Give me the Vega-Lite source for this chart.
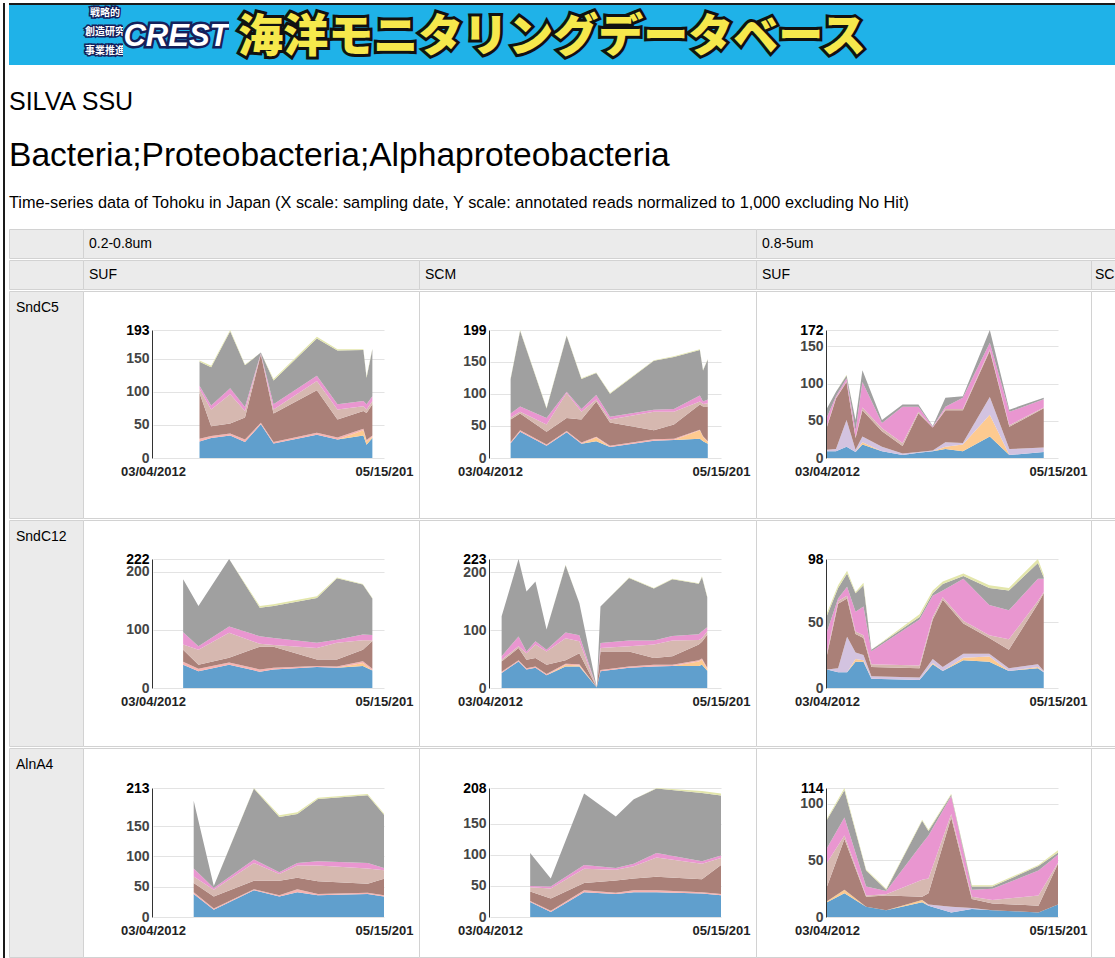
{
"$schema": "https://vega.github.io/schema/vega-lite/v6.json",
"padding": {"left": 3, "top": 3, "right": 0, "bottom": 0},
"background": "#ffffff",
"spacing": 3,
"config": {
  "view": {"stroke": null},
  "concat": {"spacing": 0},
  "title": {"orient": "none", "anchor": "start", "frame": "group", "offset": 0, "font": "Liberation Sans", "fontWeight": "normal", "color": "#000000"},
  "axisX": {"domain": false, "ticks": false, "grid": false, "labelFont": "Liberation Sans", "labelFontSize": 13, "labelFontWeight": "bold", "labelColor": "#222222", "labelPadding": 7, "labelFlush": false, "labelOverlap": false, "labelBound": false},
  "axisY": {"domain": true, "domainColor": "#333333", "ticks": false, "grid": true, "gridColor": "#e3e3e3", "labelFont": "Liberation Sans", "labelFontSize": 14, "labelFontWeight": "bold", "labelPadding": 3, "labelOverlap": false, "zindex": 0}
},
"datasets": {
"s": [
{"p":"A","d":"2012-05-31","t1":25,"t2":0,"t3":4,"t4":0,"t5":69,"t6":6,"t7":5,"t8":36,"t9":2},
{"p":"A","d":"2012-06-22","t1":30,"t2":0,"t3":3,"t4":0,"t5":15,"t6":25,"t7":6,"t8":58,"t9":2},
{"p":"A","d":"2012-07-28","t1":34,"t2":0,"t3":3,"t4":0,"t5":15,"t6":44,"t7":9,"t8":86,"t9":2},
{"p":"A","d":"2012-08-25","t1":24,"t2":0,"t3":4,"t4":0,"t5":33,"t6":10,"t7":6,"t8":63,"t9":1},
{"p":"A","d":"2012-09-24","t1":51,"t2":0,"t3":2,"t4":0,"t5":103,"t6":1,"t7":1,"t8":1,"t9":0},
{"p":"A","d":"2012-10-18","t1":22,"t2":0,"t3":2,"t4":0,"t5":43,"t6":6,"t7":8,"t8":36,"t9":2},
{"p":"A","d":"2013-01-08","t1":35,"t2":0,"t3":3,"t4":0,"t5":64,"t6":14,"t7":8,"t8":56,"t9":3},
{"p":"A","d":"2013-02-16","t1":28,"t2":0,"t3":3,"t4":0,"t5":27,"t6":15,"t7":8,"t8":81,"t9":2},
{"p":"A","d":"2013-04-06","t1":34,"t2":8,"t3":2,"t4":0,"t5":27,"t6":7,"t7":8,"t8":77,"t9":1},
{"p":"A","d":"2013-04-12","t1":20,"t2":5,"t3":2,"t4":0,"t5":41,"t6":5,"t7":8,"t8":40,"t9":2},
{"p":"A","d":"2013-04-23","t1":30,"t2":2,"t3":2,"t4":0,"t5":47,"t6":5,"t7":7,"t8":71,"t9":1},
{"p":"B","d":"2012-04-12","t1":23,"t2":0,"t3":2,"t4":0,"t5":35,"t6":3,"t7":6,"t8":54,"t9":1},
{"p":"B","d":"2012-04-30","t1":41,"t2":0,"t3":2,"t4":0,"t5":26,"t6":3,"t7":8,"t8":118,"t9":1},
{"p":"B","d":"2012-06-19","t1":19,"t2":0,"t3":2,"t4":0,"t5":20,"t6":11,"t7":10,"t8":15,"t9":1},
{"p":"B","d":"2012-07-27","t1":40,"t2":0,"t3":2,"t4":0,"t5":20,"t6":39,"t7":2,"t8":87,"t9":1},
{"p":"B","d":"2012-08-24","t1":22,"t2":0,"t3":2,"t4":0,"t5":36,"t6":12,"t7":4,"t8":47,"t9":1},
{"p":"B","d":"2012-09-21","t1":26,"t2":6,"t3":1,"t4":0,"t5":55,"t6":3,"t7":7,"t8":34,"t9":1},
{"p":"B","d":"2012-10-17","t1":17,"t2":0,"t3":2,"t4":0,"t5":36,"t6":5,"t7":4,"t8":36,"t9":1},
{"p":"B","d":"2013-01-08","t1":27,"t2":0,"t3":2,"t4":0,"t5":14,"t6":29,"t7":3,"t8":76,"t9":1},
{"p":"B","d":"2013-02-15","t1":28,"t2":0,"t3":2,"t4":0,"t5":22,"t6":20,"t7":4,"t8":81,"t9":1},
{"p":"B","d":"2013-04-05","t1":30,"t2":13,"t3":1,"t4":0,"t5":39,"t6":5,"t7":9,"t8":71,"t9":1},
{"p":"B","d":"2013-04-11","t1":26,"t2":7,"t3":1,"t4":0,"t5":46,"t6":4,"t7":4,"t8":48,"t9":1},
{"p":"B","d":"2013-04-20","t1":22,"t2":3,"t3":1,"t4":0,"t5":54,"t6":5,"t7":6,"t8":62,"t9":1},
{"p":"C","d":"2012-03-04","t1":9,"t2":0,"t3":0,"t4":2,"t5":31,"t6":2,"t7":11,"t8":12,"t9":0},
{"p":"C","d":"2012-03-21","t1":9,"t2":0,"t3":0,"t4":3,"t5":68,"t6":1,"t7":2,"t8":6,"t9":0},
{"p":"C","d":"2012-04-10","t1":15,"t2":0,"t3":0,"t4":36,"t5":51,"t6":1,"t7":4,"t8":4,"t9":1},
{"p":"C","d":"2012-04-27","t1":8,"t2":0,"t3":0,"t4":3,"t5":16,"t6":1,"t7":9,"t8":14,"t9":0},
{"p":"C","d":"2012-05-10","t1":18,"t2":3,"t3":0,"t4":8,"t5":35,"t6":4,"t7":34,"t8":16,"t9":0},
{"p":"C","d":"2012-06-16","t1":9,"t2":0,"t3":0,"t4":6,"t5":21,"t6":4,"t7":7,"t8":4,"t9":0},
{"p":"C","d":"2012-07-25","t1":4,"t2":0,"t3":0,"t4":2,"t5":10,"t6":4,"t7":49,"t8":3,"t9":0},
{"p":"C","d":"2012-08-24","t1":7,"t2":0,"t3":0,"t4":1,"t5":52,"t6":2,"t7":7,"t8":3,"t9":0},
{"p":"C","d":"2012-09-20","t1":9,"t2":0,"t3":0,"t4":1,"t5":31,"t6":0,"t7":1,"t8":1,"t9":0},
{"p":"C","d":"2012-10-14","t1":12,"t2":3,"t3":0,"t4":6,"t5":43,"t6":2,"t7":3,"t8":12,"t9":0},
{"p":"C","d":"2012-11-16","t1":9,"t2":9,"t3":0,"t4":2,"t5":44,"t6":2,"t7":15,"t8":2,"t9":0},
{"p":"C","d":"2013-01-06","t1":29,"t2":29,"t3":0,"t4":24,"t5":62,"t6":2,"t7":9,"t8":17,"t9":0},
{"p":"C","d":"2013-02-12","t1":4,"t2":0,"t3":0,"t4":8,"t5":30,"t6":2,"t7":18,"t8":3,"t9":0},
{"p":"C","d":"2013-04-18","t1":8,"t2":0,"t3":0,"t4":6,"t5":53,"t6":1,"t7":11,"t8":2,"t9":0},
{"p":"D","d":"2012-04-30","t1":40,"t2":0,"t3":5,"t4":0,"t5":21,"t6":9,"t7":21,"t8":91,"t9":0},
{"p":"D","d":"2012-05-29","t1":29,"t2":0,"t3":4,"t4":0,"t5":7,"t6":26,"t7":6,"t8":69,"t9":0},
{"p":"D","d":"2012-07-26","t1":40,"t2":0,"t3":4,"t4":0,"t5":8,"t6":43,"t7":11,"t8":116,"t9":0},
{"p":"D","d":"2012-09-22","t1":28,"t2":0,"t3":4,"t4":0,"t5":39,"t6":5,"t7":13,"t8":49,"t9":3},
{"p":"D","d":"2012-10-18","t1":32,"t2":0,"t3":3,"t4":0,"t5":36,"t6":3,"t7":12,"t8":55,"t9":3},
{"p":"D","d":"2013-01-08","t1":36,"t2":0,"t3":2,"t4":0,"t5":11,"t6":20,"t7":9,"t8":77,"t9":3},
{"p":"D","d":"2013-02-15","t1":35,"t2":0,"t3":2,"t4":0,"t5":12,"t6":29,"t7":5,"t8":106,"t9":1},
{"p":"D","d":"2013-04-05","t1":38,"t2":5,"t3":3,"t4":0,"t5":20,"t6":16,"t7":10,"t8":86,"t9":1},
{"p":"D","d":"2013-04-23","t1":30,"t2":0,"t3":3,"t4":0,"t5":48,"t6":1,"t7":9,"t8":63,"t9":1},
{"p":"E","d":"2012-03-26","t1":26,"t2":0,"t3":2,"t4":0,"t5":18,"t6":3,"t7":6,"t8":69,"t9":0},
{"p":"E","d":"2012-04-27","t1":46,"t2":0,"t3":2,"t4":0,"t5":21,"t6":3,"t7":17,"t8":134,"t9":0},
{"p":"E","d":"2012-05-12","t1":32,"t2":0,"t3":2,"t4":0,"t5":15,"t6":11,"t7":3,"t8":104,"t9":0},
{"p":"E","d":"2012-05-29","t1":35,"t2":0,"t3":2,"t4":0,"t5":15,"t6":23,"t7":6,"t8":103,"t9":0},
{"p":"E","d":"2012-06-19","t1":22,"t2":0,"t3":2,"t4":0,"t5":16,"t6":23,"t7":3,"t8":35,"t9":0},
{"p":"E","d":"2012-07-25","t1":37,"t2":3,"t3":2,"t4":0,"t5":6,"t6":38,"t7":10,"t8":116,"t9":1},
{"p":"E","d":"2012-08-20","t1":37,"t2":2,"t3":2,"t4":0,"t5":19,"t6":21,"t7":10,"t8":56,"t9":0},
{"p":"E","d":"2012-09-22","t1":1,"t2":0,"t3":0,"t4":0,"t5":0,"t6":0,"t7":0,"t8":0,"t9":0},
{"p":"E","d":"2012-09-29","t1":29,"t2":0,"t3":2,"t4":0,"t5":32,"t6":6,"t7":9,"t8":63,"t9":0},
{"p":"E","d":"2012-11-22","t1":35,"t2":0,"t3":2,"t4":0,"t5":26,"t6":9,"t7":10,"t8":108,"t9":1},
{"p":"E","d":"2013-01-08","t1":37,"t2":0,"t3":3,"t4":0,"t5":12,"t6":23,"t7":7,"t8":90,"t9":1},
{"p":"E","d":"2013-02-12","t1":38,"t2":0,"t3":2,"t4":0,"t5":15,"t6":27,"t7":8,"t8":98,"t9":1},
{"p":"E","d":"2013-04-03","t1":38,"t2":8,"t3":2,"t4":0,"t5":27,"t6":8,"t7":10,"t8":87,"t9":1},
{"p":"E","d":"2013-04-09","t1":40,"t2":9,"t3":2,"t4":0,"t5":29,"t6":6,"t7":12,"t8":94,"t9":1},
{"p":"E","d":"2013-04-19","t1":30,"t2":3,"t3":2,"t4":0,"t5":57,"t6":6,"t7":7,"t8":52,"t9":1},
{"p":"F","d":"2012-03-04","t1":14,"t2":0,"t3":0,"t4":0,"t5":11,"t6":2,"t7":16,"t8":12,"t9":2},
{"p":"F","d":"2012-03-25","t1":12,"t2":0,"t3":0,"t4":3,"t5":49,"t6":2,"t7":2,"t8":8,"t9":2},
{"p":"F","d":"2012-04-11","t1":12,"t2":0,"t3":0,"t4":27,"t5":29,"t6":2,"t7":7,"t8":10,"t9":2},
{"p":"F","d":"2012-04-27","t1":20,"t2":2,"t3":0,"t4":5,"t5":14,"t6":2,"t7":15,"t8":14,"t9":1},
{"p":"F","d":"2012-05-12","t1":20,"t2":1,"t3":0,"t4":4,"t5":13,"t6":2,"t7":22,"t8":16,"t9":2},
{"p":"F","d":"2012-05-27","t1":7,"t2":0,"t3":0,"t4":2,"t5":7,"t6":2,"t7":10,"t8":1,"t9":0},
{"p":"F","d":"2012-08-26","t1":6,"t2":0,"t3":0,"t4":2,"t5":7,"t6":2,"t7":35,"t8":2,"t9":2},
{"p":"F","d":"2012-09-20","t1":18,"t2":1,"t3":0,"t4":3,"t5":30,"t6":2,"t7":16,"t8":2,"t9":2},
{"p":"F","d":"2012-10-09","t1":13,"t2":0,"t3":0,"t4":3,"t5":51,"t6":2,"t7":5,"t8":5,"t9":2},
{"p":"F","d":"2012-11-17","t1":21,"t2":2,"t3":0,"t4":3,"t5":23,"t6":2,"t7":32,"t8":2,"t9":2},
{"p":"F","d":"2013-01-05","t1":20,"t2":4,"t3":0,"t4":2,"t5":12,"t6":2,"t7":23,"t8":13,"t9":2},
{"p":"F","d":"2013-02-11","t1":13,"t2":0,"t3":0,"t4":2,"t5":14,"t6":8,"t7":22,"t8":15,"t9":2},
{"p":"F","d":"2013-04-07","t1":15,"t2":1,"t3":0,"t4":2,"t5":46,"t6":2,"t7":17,"t8":12,"t9":3},
{"p":"F","d":"2013-04-18","t1":12,"t2":0,"t3":0,"t4":1,"t5":59,"t6":1,"t7":10,"t8":1,"t9":2},
{"p":"G","d":"2012-05-20","t1":38,"t2":0,"t3":3,"t4":0,"t5":15,"t6":11,"t7":13,"t8":112,"t9":0},
{"p":"G","d":"2012-06-27","t1":12,"t2":0,"t3":2,"t4":0,"t5":20,"t6":11,"t7":3,"t8":3,"t9":0},
{"p":"G","d":"2012-09-11","t1":44,"t2":0,"t3":2,"t4":0,"t5":14,"t6":29,"t7":6,"t8":117,"t9":1},
{"p":"G","d":"2012-10-29","t1":34,"t2":0,"t3":2,"t4":0,"t5":24,"t6":11,"t7":3,"t8":91,"t9":3},
{"p":"G","d":"2012-12-02","t1":41,"t2":0,"t3":5,"t4":0,"t5":19,"t6":20,"t7":4,"t8":81,"t9":3},
{"p":"G","d":"2013-01-10","t1":36,"t2":0,"t3":2,"t4":0,"t5":21,"t6":26,"t7":7,"t8":103,"t9":2},
{"p":"G","d":"2013-04-14","t1":38,"t2":0,"t3":2,"t4":0,"t5":15,"t6":25,"t7":9,"t8":112,"t9":2},
{"p":"G","d":"2013-05-15","t1":34,"t2":0,"t3":2,"t4":0,"t5":27,"t6":14,"t7":4,"t8":88,"t9":2},
{"p":"H","d":"2012-05-19","t1":24,"t2":0,"t3":2,"t4":0,"t5":15,"t6":7,"t7":2,"t8":53,"t9":0},
{"p":"H","d":"2012-06-27","t1":8,"t2":0,"t3":2,"t4":0,"t5":20,"t6":16,"t7":3,"t8":13,"t9":0},
{"p":"H","d":"2012-08-29","t1":40,"t2":0,"t3":3,"t4":0,"t5":12,"t6":23,"t7":6,"t8":115,"t9":0},
{"p":"H","d":"2012-10-28","t1":37,"t2":0,"t3":2,"t4":0,"t5":20,"t6":17,"t7":3,"t8":83,"t9":0},
{"p":"H","d":"2012-12-01","t1":40,"t2":0,"t3":3,"t4":0,"t5":19,"t6":20,"t7":4,"t8":104,"t9":0},
{"p":"H","d":"2013-01-13","t1":40,"t2":0,"t3":3,"t4":0,"t5":22,"t6":31,"t7":7,"t8":104,"t9":1},
{"p":"H","d":"2013-04-09","t1":38,"t2":0,"t3":2,"t4":0,"t5":21,"t6":25,"t7":4,"t8":110,"t9":3},
{"p":"H","d":"2013-05-15","t1":35,"t2":0,"t3":2,"t4":0,"t5":47,"t6":11,"t7":4,"t8":97,"t9":3},
{"p":"I","d":"2012-03-04","t1":13,"t2":1,"t3":0,"t4":0,"t5":13,"t6":21,"t7":13,"t8":25,"t9":1},
{"p":"I","d":"2012-04-06","t1":21,"t2":3,"t3":0,"t4":0,"t5":45,"t6":3,"t7":16,"t8":24,"t9":2},
{"p":"I","d":"2012-05-17","t1":9,"t2":0,"t3":0,"t4":0,"t5":9,"t6":1,"t7":8,"t8":14,"t9":1},
{"p":"I","d":"2012-06-24","t1":6,"t2":0,"t3":0,"t4":0,"t5":13,"t6":1,"t7":3,"t8":1,"t9":1},
{"p":"I","d":"2012-08-31","t1":13,"t2":2,"t3":0,"t4":0,"t5":3,"t6":15,"t7":32,"t8":20,"t9":1},
{"p":"I","d":"2012-09-12","t1":10,"t2":0,"t3":0,"t4":1,"t5":10,"t6":13,"t7":38,"t8":4,"t9":1},
{"p":"I","d":"2012-10-25","t1":4,"t2":0,"t3":0,"t4":5,"t5":79,"t6":3,"t7":16,"t8":1,"t9":1},
{"p":"I","d":"2012-12-03","t1":7,"t2":0,"t3":0,"t4":1,"t5":8,"t6":2,"t7":6,"t8":3,"t9":1},
{"p":"I","d":"2013-01-11","t1":6,"t2":0,"t3":0,"t4":0,"t5":6,"t6":3,"t7":10,"t8":2,"t9":1},
{"p":"I","d":"2013-04-08","t1":4,"t2":0,"t3":0,"t4":0,"t5":6,"t6":9,"t7":22,"t8":4,"t9":1},
{"p":"I","d":"2013-05-15","t1":11,"t2":0,"t3":0,"t4":0,"t5":36,"t6":1,"t7":7,"t8":2,"t9":2}
]
},
"hconcat": [
 {"width": 2, "height": 955, "view": {"fill": "#1a1a1a", "stroke": null}, "data": {"values": [{}]}, "mark": {"type": "text", "text": "", "fontSize": 0}},
 {"spacing": 0, "vconcat": [
  {"width": 1107, "height": 2, "view": {"fill": "#1a1a1a", "stroke": null}, "data": {"values": [{}]}, "mark": {"type": "text", "text": "", "fontSize": 0}},
  {"bounds": "flush", "spacing": 0, "hconcat": [
    {"width": 78, "height": 60, "view": {"fill": "#1fb2e8", "stroke": null}, "data": {"values": [{}]}, "mark": {"type": "text", "text": "", "fontSize": 0}},
    {"width": 36, "height": 60, "view": {"fill": "#1fb2e8", "stroke": null}, "data": {"values": [{"t": "戦略的\n創造研究\n事業推進"}]},
     "layer": [
       {"mark": {"type": "text", "lineBreak": "\n", "font": "Noto Sans CJK JP", "fontSize": 10, "fontWeight": "bold", "lineHeight": 19, "fill": "#15205a", "stroke": "#15205a", "strokeWidth": 3, "dy": -22}, "encoding": {"text": {"field": "t"}}},
       {"mark": {"type": "text", "lineBreak": "\n", "font": "Noto Sans CJK JP", "fontSize": 10, "fontWeight": "bold", "lineHeight": 19, "fill": "#ffffff", "dy": -22}, "encoding": {"text": {"field": "t"}}}
     ]},
    {"width": 106, "height": 60, "view": {"fill": "#1fb2e8", "stroke": null}, "data": {"values": [{"t": "CREST"}]},
     "layer": [
       {"mark": {"type": "text", "font": "Liberation Sans", "fontSize": 31, "fontWeight": "bold", "fontStyle": "italic", "fill": "#15205a", "stroke": "#15205a", "strokeWidth": 5, "dy": 2}, "encoding": {"text": {"field": "t"}}},
       {"mark": {"type": "text", "font": "Liberation Sans", "fontSize": 31, "fontWeight": "bold", "fontStyle": "italic", "fill": "#ffffff", "dy": 2}, "encoding": {"text": {"field": "t"}}}
     ]},
    {"width": 646, "height": 60, "view": {"fill": "#1fb2e8", "stroke": null}, "data": {"values": [{"t": "海洋モニタリングデータベース"}]},
     "layer": [
       {"mark": {"type": "text", "font": "Noto Sans CJK JP", "fontSize": 45, "fontWeight": 900, "fill": "#111111", "stroke": "#111111", "strokeWidth": 6, "dy": 3}, "encoding": {"text": {"field": "t"}}},
       {"mark": {"type": "text", "font": "Noto Sans CJK JP", "fontSize": 45, "fontWeight": 900, "fill": "#f6e84c", "dy": 3}, "encoding": {"text": {"field": "t"}}}
     ]},
    {"width": 241, "height": 60, "view": {"fill": "#1fb2e8", "stroke": null}, "data": {"values": [{}]}, "mark": {"type": "text", "text": "", "fontSize": 0}}
  ]},
  {"width": 1107, "height": 60, "data": {"values": [{}]}, "mark": {"type": "text", "text": "", "fontSize": 0},
   "title": {"text": "SILVA SSU", "fontSize": 25, "dy": 45, "baseline": "alphabetic"}},
  {"width": 1107, "height": 60, "data": {"values": [{}]}, "mark": {"type": "text", "text": "", "fontSize": 0},
   "title": {"text": "Bacteria;Proteobacteria;Alphaproteobacteria", "fontSize": 33.6, "dy": 41, "baseline": "alphabetic"}},
  {"width": 1107, "height": 43, "data": {"values": [{}]}, "mark": {"type": "text", "text": "", "fontSize": 0},
   "title": {"text": "Time-series data of Tohoku in Japan (X scale: sampling date, Y scale: annotated reads normalized to 1,000 excluding No Hit)", "fontSize": 16.3, "dy": 23, "baseline": "alphabetic"}},
  {"bounds": "flush", "spacing": 0, "hconcat": [
    {"width": 74, "height": 29, "view": {"fill": "#ebebeb", "stroke": "#d2d2d2"}, "data": {"values": [{}]}, "mark": {"type": "text", "text": "", "fontSize": 0}},
    {"width": 673, "height": 29, "view": {"fill": "#ebebeb", "stroke": "#d2d2d2"}, "data": {"values": [{}]}, "mark": {"type": "text", "text": "", "fontSize": 0},
     "title": {"text": "0.2-0.8um", "fontSize": 14, "dy": 15, "dx": 6, "baseline": "middle"}},
    {"width": 360, "height": 29, "view": {"fill": "#ebebeb", "stroke": "#d2d2d2"}, "data": {"values": [{}]}, "mark": {"type": "text", "text": "", "fontSize": 0},
     "title": {"text": "0.8-5um", "fontSize": 14, "dy": 15, "dx": 6, "baseline": "middle"}}
  ]},
  {"bounds": "flush", "spacing": 0, "hconcat": [
    {"width": 74, "height": 29, "view": {"fill": "#ebebeb", "stroke": "#d2d2d2"}, "data": {"values": [{}]}, "mark": {"type": "text", "text": "", "fontSize": 0}},
    {"width": 336, "height": 29, "view": {"fill": "#ebebeb", "stroke": "#d2d2d2"}, "data": {"values": [{}]}, "mark": {"type": "text", "text": "", "fontSize": 0},
     "title": {"text": "SUF", "fontSize": 14, "dy": 15, "dx": 6, "baseline": "middle"}},
    {"width": 337, "height": 29, "view": {"fill": "#ebebeb", "stroke": "#d2d2d2"}, "data": {"values": [{}]}, "mark": {"type": "text", "text": "", "fontSize": 0},
     "title": {"text": "SCM", "fontSize": 14, "dy": 15, "dx": 6, "baseline": "middle"}},
    {"width": 335, "height": 29, "view": {"fill": "#ebebeb", "stroke": "#d2d2d2"}, "data": {"values": [{}]}, "mark": {"type": "text", "text": "", "fontSize": 0},
     "title": {"text": "SUF", "fontSize": 14, "dy": 15, "dx": 6, "baseline": "middle"}},
    {"width": 25, "height": 29, "view": {"fill": "#ebebeb", "stroke": "#d2d2d2"}, "data": {"values": [{}]}, "mark": {"type": "text", "text": "", "fontSize": 0},
     "title": {"text": "SC", "fontSize": 14, "dy": 15, "dx": 4, "baseline": "middle"}}
  ]},
  {"bounds": "flush", "spacing": 0, "hconcat": [
    {"width": 74, "height": 227, "view": {"fill": "#ebebeb", "stroke": "#d2d2d2"}, "data": {"values": [{}]}, "mark": {"type": "text", "text": "", "fontSize": 0},
     "title": {"text": "SndC5", "fontSize": 14, "dy": 17, "dx": 7, "baseline": "middle"}},
    {"width": 336, "height": 227, "view": {"fill": "#ffffff", "stroke": "#d2d2d2"}, "data": {"name": "s"},
     "transform": [{"filter": "datum.p == 'A'"}, {"fold": ["t1","t2","t3","t4","t5","t6","t7","t8","t9"], "as": ["taxon","v"]}],
     "mark": {"type": "area", "interpolate": "linear"},
     "encoding": {
       "x": {"field": "d", "type": "temporal", "scale": {"type": "utc", "domain": [{"year":2012,"month":3,"date":4,"utc":true},{"year":2013,"month":5,"date":15,"utc":true}], "range": [70,301], "nice": false},
             "axis": {"title": null, "orient": "bottom", "offset": -60, "values": [{"year":2012,"month":3,"date":4,"utc":true},{"year":2013,"month":5,"date":15,"utc":true}], "labelExpr": "datum.index == 1 ? slice(utcFormat(datum.value, '%m/%d/%Y'), 0, 9) : utcFormat(datum.value, '%m/%d/%Y')"}},
       "y": {"field": "v", "type": "quantitative", "stack": "zero", "scale": {"domain": [0,193], "range": [167,39], "nice": false},
             "axis": {"title": null, "offset": -69, "values": [0,50,100,150,193], "labelColor": {"condition": {"test": "datum.value == 193", "value": "#000000"}, "value": "#444444"}}},
       "color": {"field": "taxon", "type": "nominal", "scale": {"domain": ["t1","t2","t3","t4","t5","t6","t7","t8","t9"], "range": ["#609fcd","#fdca90","#f7b3b0","#d3c3e0","#aa8078","#d6b8b0","#e996d0","#a0a0a0","#e3e6ab"]}, "legend": null},
       "order": {"field": "taxon", "type": "ordinal", "sort": "ascending"}
     }},
    {"width": 337, "height": 227, "view": {"fill": "#ffffff", "stroke": "#d2d2d2"}, "data": {"name": "s"},
     "transform": [{"filter": "datum.p == 'B'"}, {"fold": ["t1","t2","t3","t4","t5","t6","t7","t8","t9"], "as": ["taxon","v"]}],
     "mark": {"type": "area", "interpolate": "linear"},
     "encoding": {
       "x": {"field": "d", "type": "temporal", "scale": {"type": "utc", "domain": [{"year":2012,"month":3,"date":4,"utc":true},{"year":2013,"month":5,"date":15,"utc":true}], "range": [71,302], "nice": false},
             "axis": {"title": null, "orient": "bottom", "offset": -60, "values": [{"year":2012,"month":3,"date":4,"utc":true},{"year":2013,"month":5,"date":15,"utc":true}], "labelExpr": "datum.index == 1 ? slice(utcFormat(datum.value, '%m/%d/%Y'), 0, 9) : utcFormat(datum.value, '%m/%d/%Y')"}},
       "y": {"field": "v", "type": "quantitative", "stack": "zero", "scale": {"domain": [0,199], "range": [167,39], "nice": false},
             "axis": {"title": null, "offset": -70, "values": [0,50,100,150,199], "labelColor": {"condition": {"test": "datum.value == 199", "value": "#000000"}, "value": "#444444"}}},
       "color": {"field": "taxon", "type": "nominal", "scale": {"domain": ["t1","t2","t3","t4","t5","t6","t7","t8","t9"], "range": ["#609fcd","#fdca90","#f7b3b0","#d3c3e0","#aa8078","#d6b8b0","#e996d0","#a0a0a0","#e3e6ab"]}, "legend": null},
       "order": {"field": "taxon", "type": "ordinal", "sort": "ascending"}
     }},
    {"width": 335, "height": 227, "view": {"fill": "#ffffff", "stroke": "#d2d2d2"}, "data": {"name": "s"},
     "transform": [{"filter": "datum.p == 'C'"}, {"fold": ["t1","t2","t3","t4","t5","t6","t7","t8","t9"], "as": ["taxon","v"]}],
     "mark": {"type": "area", "interpolate": "linear"},
     "encoding": {
       "x": {"field": "d", "type": "temporal", "scale": {"type": "utc", "domain": [{"year":2012,"month":3,"date":4,"utc":true},{"year":2013,"month":5,"date":15,"utc":true}], "range": [71,302], "nice": false},
             "axis": {"title": null, "orient": "bottom", "offset": -60, "values": [{"year":2012,"month":3,"date":4,"utc":true},{"year":2013,"month":5,"date":15,"utc":true}], "labelExpr": "datum.index == 1 ? slice(utcFormat(datum.value, '%m/%d/%Y'), 0, 9) : utcFormat(datum.value, '%m/%d/%Y')"}},
       "y": {"field": "v", "type": "quantitative", "stack": "zero", "scale": {"domain": [0,172], "range": [167,39], "nice": false},
             "axis": {"title": null, "offset": -70, "values": [0,50,100,150,172], "labelColor": {"condition": {"test": "datum.value == 172", "value": "#000000"}, "value": "#444444"}}},
       "color": {"field": "taxon", "type": "nominal", "scale": {"domain": ["t1","t2","t3","t4","t5","t6","t7","t8","t9"], "range": ["#609fcd","#fdca90","#f7b3b0","#d3c3e0","#aa8078","#d6b8b0","#e996d0","#a0a0a0","#e3e6ab"]}, "legend": null},
       "order": {"field": "taxon", "type": "ordinal", "sort": "ascending"}
     }},
    {"width": 25, "height": 227, "view": {"fill": "#ffffff", "stroke": "#d2d2d2"}, "data": {"values": [{}]}, "mark": {"type": "text", "text": "", "fontSize": 0}}
  ]},
  {"bounds": "flush", "spacing": 0, "hconcat": [
    {"width": 74, "height": 226, "view": {"fill": "#ebebeb", "stroke": "#d2d2d2"}, "data": {"values": [{}]}, "mark": {"type": "text", "text": "", "fontSize": 0},
     "title": {"text": "SndC12", "fontSize": 14, "dy": 17, "dx": 7, "baseline": "middle"}},
    {"width": 336, "height": 226, "view": {"fill": "#ffffff", "stroke": "#d2d2d2"}, "data": {"name": "s"},
     "transform": [{"filter": "datum.p == 'D'"}, {"fold": ["t1","t2","t3","t4","t5","t6","t7","t8","t9"], "as": ["taxon","v"]}],
     "mark": {"type": "area", "interpolate": "linear"},
     "encoding": {
       "x": {"field": "d", "type": "temporal", "scale": {"type": "utc", "domain": [{"year":2012,"month":3,"date":4,"utc":true},{"year":2013,"month":5,"date":15,"utc":true}], "range": [70,301], "nice": false},
             "axis": {"title": null, "orient": "bottom", "offset": -58, "values": [{"year":2012,"month":3,"date":4,"utc":true},{"year":2013,"month":5,"date":15,"utc":true}], "labelExpr": "datum.index == 1 ? slice(utcFormat(datum.value, '%m/%d/%Y'), 0, 9) : utcFormat(datum.value, '%m/%d/%Y')"}},
       "y": {"field": "v", "type": "quantitative", "stack": "zero", "scale": {"domain": [0,222], "range": [168,39], "nice": false},
             "axis": {"title": null, "offset": -69, "values": [0,100,200,222], "labelColor": {"condition": {"test": "datum.value == 222", "value": "#000000"}, "value": "#444444"}}},
       "color": {"field": "taxon", "type": "nominal", "scale": {"domain": ["t1","t2","t3","t4","t5","t6","t7","t8","t9"], "range": ["#609fcd","#fdca90","#f7b3b0","#d3c3e0","#aa8078","#d6b8b0","#e996d0","#a0a0a0","#e3e6ab"]}, "legend": null},
       "order": {"field": "taxon", "type": "ordinal", "sort": "ascending"}
     }},
    {"width": 337, "height": 226, "view": {"fill": "#ffffff", "stroke": "#d2d2d2"}, "data": {"name": "s"},
     "transform": [{"filter": "datum.p == 'E'"}, {"fold": ["t1","t2","t3","t4","t5","t6","t7","t8","t9"], "as": ["taxon","v"]}],
     "mark": {"type": "area", "interpolate": "linear"},
     "encoding": {
       "x": {"field": "d", "type": "temporal", "scale": {"type": "utc", "domain": [{"year":2012,"month":3,"date":4,"utc":true},{"year":2013,"month":5,"date":15,"utc":true}], "range": [71,302], "nice": false},
             "axis": {"title": null, "orient": "bottom", "offset": -58, "values": [{"year":2012,"month":3,"date":4,"utc":true},{"year":2013,"month":5,"date":15,"utc":true}], "labelExpr": "datum.index == 1 ? slice(utcFormat(datum.value, '%m/%d/%Y'), 0, 9) : utcFormat(datum.value, '%m/%d/%Y')"}},
       "y": {"field": "v", "type": "quantitative", "stack": "zero", "scale": {"domain": [0,223], "range": [168,39], "nice": false},
             "axis": {"title": null, "offset": -70, "values": [0,100,200,223], "labelColor": {"condition": {"test": "datum.value == 223", "value": "#000000"}, "value": "#444444"}}},
       "color": {"field": "taxon", "type": "nominal", "scale": {"domain": ["t1","t2","t3","t4","t5","t6","t7","t8","t9"], "range": ["#609fcd","#fdca90","#f7b3b0","#d3c3e0","#aa8078","#d6b8b0","#e996d0","#a0a0a0","#e3e6ab"]}, "legend": null},
       "order": {"field": "taxon", "type": "ordinal", "sort": "ascending"}
     }},
    {"width": 335, "height": 226, "view": {"fill": "#ffffff", "stroke": "#d2d2d2"}, "data": {"name": "s"},
     "transform": [{"filter": "datum.p == 'F'"}, {"fold": ["t1","t2","t3","t4","t5","t6","t7","t8","t9"], "as": ["taxon","v"]}],
     "mark": {"type": "area", "interpolate": "linear"},
     "encoding": {
       "x": {"field": "d", "type": "temporal", "scale": {"type": "utc", "domain": [{"year":2012,"month":3,"date":4,"utc":true},{"year":2013,"month":5,"date":15,"utc":true}], "range": [71,302], "nice": false},
             "axis": {"title": null, "orient": "bottom", "offset": -58, "values": [{"year":2012,"month":3,"date":4,"utc":true},{"year":2013,"month":5,"date":15,"utc":true}], "labelExpr": "datum.index == 1 ? slice(utcFormat(datum.value, '%m/%d/%Y'), 0, 9) : utcFormat(datum.value, '%m/%d/%Y')"}},
       "y": {"field": "v", "type": "quantitative", "stack": "zero", "scale": {"domain": [0,98], "range": [168,39], "nice": false},
             "axis": {"title": null, "offset": -70, "values": [0,50,98], "labelColor": {"condition": {"test": "datum.value == 98", "value": "#000000"}, "value": "#444444"}}},
       "color": {"field": "taxon", "type": "nominal", "scale": {"domain": ["t1","t2","t3","t4","t5","t6","t7","t8","t9"], "range": ["#609fcd","#fdca90","#f7b3b0","#d3c3e0","#aa8078","#d6b8b0","#e996d0","#a0a0a0","#e3e6ab"]}, "legend": null},
       "order": {"field": "taxon", "type": "ordinal", "sort": "ascending"}
     }},
    {"width": 25, "height": 226, "view": {"fill": "#ffffff", "stroke": "#d2d2d2"}, "data": {"values": [{}]}, "mark": {"type": "text", "text": "", "fontSize": 0}}
  ]},
  {"bounds": "flush", "spacing": 0, "hconcat": [
    {"width": 74, "height": 209, "view": {"fill": "#ebebeb", "stroke": "#d2d2d2"}, "data": {"values": [{}]}, "mark": {"type": "text", "text": "", "fontSize": 0},
     "title": {"text": "AlnA4", "fontSize": 14, "dy": 17, "dx": 7, "baseline": "middle"}},
    {"width": 336, "height": 209, "view": {"fill": "#ffffff", "stroke": "#d2d2d2"}, "data": {"name": "s"},
     "transform": [{"filter": "datum.p == 'G'"}, {"fold": ["t1","t2","t3","t4","t5","t6","t7","t8","t9"], "as": ["taxon","v"]}],
     "mark": {"type": "area", "interpolate": "linear"},
     "encoding": {
       "x": {"field": "d", "type": "temporal", "scale": {"type": "utc", "domain": [{"year":2012,"month":3,"date":4,"utc":true},{"year":2013,"month":5,"date":15,"utc":true}], "range": [70,301], "nice": false},
             "axis": {"title": null, "orient": "bottom", "offset": -40, "values": [{"year":2012,"month":3,"date":4,"utc":true},{"year":2013,"month":5,"date":15,"utc":true}], "labelExpr": "datum.index == 1 ? slice(utcFormat(datum.value, '%m/%d/%Y'), 0, 9) : utcFormat(datum.value, '%m/%d/%Y')"}},
       "y": {"field": "v", "type": "quantitative", "stack": "zero", "scale": {"domain": [0,213], "range": [169,40], "nice": false},
             "axis": {"title": null, "offset": -69, "values": [0,50,100,150,213], "labelColor": {"condition": {"test": "datum.value == 213", "value": "#000000"}, "value": "#444444"}}},
       "color": {"field": "taxon", "type": "nominal", "scale": {"domain": ["t1","t2","t3","t4","t5","t6","t7","t8","t9"], "range": ["#609fcd","#fdca90","#f7b3b0","#d3c3e0","#aa8078","#d6b8b0","#e996d0","#a0a0a0","#e3e6ab"]}, "legend": null},
       "order": {"field": "taxon", "type": "ordinal", "sort": "ascending"}
     }},
    {"width": 337, "height": 209, "view": {"fill": "#ffffff", "stroke": "#d2d2d2"}, "data": {"name": "s"},
     "transform": [{"filter": "datum.p == 'H'"}, {"fold": ["t1","t2","t3","t4","t5","t6","t7","t8","t9"], "as": ["taxon","v"]}],
     "mark": {"type": "area", "interpolate": "linear"},
     "encoding": {
       "x": {"field": "d", "type": "temporal", "scale": {"type": "utc", "domain": [{"year":2012,"month":3,"date":4,"utc":true},{"year":2013,"month":5,"date":15,"utc":true}], "range": [71,302], "nice": false},
             "axis": {"title": null, "orient": "bottom", "offset": -40, "values": [{"year":2012,"month":3,"date":4,"utc":true},{"year":2013,"month":5,"date":15,"utc":true}], "labelExpr": "datum.index == 1 ? slice(utcFormat(datum.value, '%m/%d/%Y'), 0, 9) : utcFormat(datum.value, '%m/%d/%Y')"}},
       "y": {"field": "v", "type": "quantitative", "stack": "zero", "scale": {"domain": [0,208], "range": [169,40], "nice": false},
             "axis": {"title": null, "offset": -70, "values": [0,50,100,150,208], "labelColor": {"condition": {"test": "datum.value == 208", "value": "#000000"}, "value": "#444444"}}},
       "color": {"field": "taxon", "type": "nominal", "scale": {"domain": ["t1","t2","t3","t4","t5","t6","t7","t8","t9"], "range": ["#609fcd","#fdca90","#f7b3b0","#d3c3e0","#aa8078","#d6b8b0","#e996d0","#a0a0a0","#e3e6ab"]}, "legend": null},
       "order": {"field": "taxon", "type": "ordinal", "sort": "ascending"}
     }},
    {"width": 335, "height": 209, "view": {"fill": "#ffffff", "stroke": "#d2d2d2"}, "data": {"name": "s"},
     "transform": [{"filter": "datum.p == 'I'"}, {"fold": ["t1","t2","t3","t4","t5","t6","t7","t8","t9"], "as": ["taxon","v"]}],
     "mark": {"type": "area", "interpolate": "linear"},
     "encoding": {
       "x": {"field": "d", "type": "temporal", "scale": {"type": "utc", "domain": [{"year":2012,"month":3,"date":4,"utc":true},{"year":2013,"month":5,"date":15,"utc":true}], "range": [71,302], "nice": false},
             "axis": {"title": null, "orient": "bottom", "offset": -40, "values": [{"year":2012,"month":3,"date":4,"utc":true},{"year":2013,"month":5,"date":15,"utc":true}], "labelExpr": "datum.index == 1 ? slice(utcFormat(datum.value, '%m/%d/%Y'), 0, 9) : utcFormat(datum.value, '%m/%d/%Y')"}},
       "y": {"field": "v", "type": "quantitative", "stack": "zero", "scale": {"domain": [0,114], "range": [169,40], "nice": false},
             "axis": {"title": null, "offset": -70, "values": [0,50,100,114], "labelColor": {"condition": {"test": "datum.value == 114", "value": "#000000"}, "value": "#444444"}}},
       "color": {"field": "taxon", "type": "nominal", "scale": {"domain": ["t1","t2","t3","t4","t5","t6","t7","t8","t9"], "range": ["#609fcd","#fdca90","#f7b3b0","#d3c3e0","#aa8078","#d6b8b0","#e996d0","#a0a0a0","#e3e6ab"]}, "legend": null},
       "order": {"field": "taxon", "type": "ordinal", "sort": "ascending"}
     }},
    {"width": 25, "height": 209, "view": {"fill": "#ffffff", "stroke": "#d2d2d2"}, "data": {"values": [{}]}, "mark": {"type": "text", "text": "", "fontSize": 0}}
  ]}
 ]}
]
}
